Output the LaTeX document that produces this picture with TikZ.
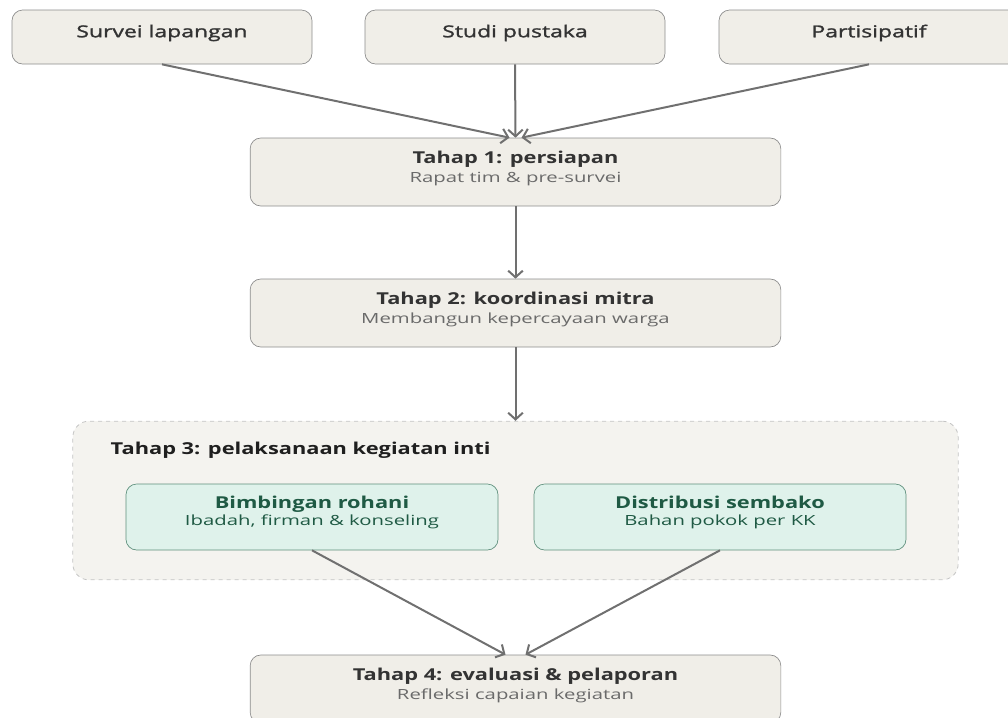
\documentclass[tikz,border=0pt]{standalone}
\usepackage{fontspec}
\setmainfont{Open Sans}[FakeStretch=1.45, BoldFeatures={FakeStretch=1.33}]
\newfontfamily\srcfont{Open Sans}[FakeStretch=1.40, FakeBold=1.6]
\usetikzlibrary{arrows.meta,positioning,calc}
\definecolor{boxfill}{HTML}{F0EEE8}
\definecolor{boxline}{HTML}{8C8C8C}
\definecolor{grpfill}{HTML}{F4F3EF}
\definecolor{grpline}{HTML}{C4C4C4}
\definecolor{grnfill}{HTML}{DFF2EB}
\definecolor{grnline}{HTML}{5E8F7C}
\definecolor{grntext}{HTML}{1F5A44}
\definecolor{titletext}{HTML}{333333}
\definecolor{subtext}{HTML}{6A6A6A}
\definecolor{arrowgray}{HTML}{707070}
% second line of a box, with extra depth so the block sits a bit high
\newcommand\sub[1]{\\{\fontsize{10.5}{14.5}\selectfont\mdseries\color{subtext}#1}\rule[-7.5pt]{0pt}{0pt}}
\newcommand\grnsub[1]{\\{\fontsize{10.5}{13}\selectfont\mdseries\color{grntext}#1}\rule[-9pt]{0pt}{0pt}}

\tikzset{
  srcbox/.style={draw=boxline, fill=boxfill, rounded corners=8pt, line width=.5pt,
    minimum width=225pt, minimum height=40.5pt, text=titletext,
    font=\srcfont\fontsize{12.3}{14.5}\selectfont},
  tahapbox/.style={draw=boxline, fill=boxfill, rounded corners=8pt, line width=.5pt,
    minimum width=398pt, minimum height=51pt, align=center, text=titletext,
    font=\fontsize{12.3}{14.5}\selectfont\bfseries},
  grnbox/.style={draw=grnline, fill=grnfill, rounded corners=8pt, line width=.5pt,
    minimum width=279pt, minimum height=49.5pt, align=center, text=grntext,
    font=\fontsize{12.3}{13}\selectfont\bfseries},
  grpbox/.style={draw=grpline, fill=grpfill, dashed, rounded corners=12pt, line width=.6pt,
    minimum width=664pt, minimum height=119pt},
  flow/.style={draw=arrowgray, line width=1.5pt, -{Straight Barb[length=5pt,width=11pt]}}
}

\begin{document}
\begin{tikzpicture}[x=0.75pt, y=-0.75pt]
\useasboundingbox (0,0) rectangle (1008,718);
\clip (0,0) rectangle (1008,718);
%% sources
\node[srcbox] (survei) at (162,37) {Survei lapangan\rule[-9pt]{0pt}{0pt}};
\node[srcbox] (studi) at (515,37) {Studi pustaka\rule[-9pt]{0pt}{0pt}};
\node[srcbox] (partis) at (869,37) {Partisipatif\rule[-9pt]{0pt}{0pt}};
%% stages
\node[tahapbox] (t1) at (515.5,172) {Tahap 1: persiapan\sub{Rapat tim \& pre-survei}};
\node[tahapbox] (t2) at (515.5,313) {Tahap 2: koordinasi mitra\sub{Membangun kepercayaan warga}};
\node[grpbox] (grp) at (515.5,500.5) {};
\node[anchor=west, text=black!88, font=\fontsize{12.3}{14.5}\selectfont\bfseries] (t3) at (106,450) {Tahap 3: pelaksanaan kegiatan inti};
\node[grnbox] (bim) at (312,517) {Bimbingan rohani\grnsub{Ibadah, firman \& konseling}};
\node[grnbox] (dis) at (720,517) {Distribusi sembako\grnsub{Bahan pokok per KK}};
\node[tahapbox] (t4) at (515.5,689) {Tahap 4: evaluasi \& pelaporan\sub{Refleksi capaian kegiatan}};
%% arrows
\draw[flow] (survei.south) -- ($(t1.north)+(-6,0)$);
\draw[flow] (studi.south) -- (t1.north);
\draw[flow] (partis.south) -- ($(t1.north)+(6,0)$);
\draw[flow] (t1.south) -- (t2.north);
\draw[flow] (t2.south) -- (grp.north);
\draw[flow] (bim.south) -- ($(t4.north)+(-10,0)$);
\draw[flow] (dis.south) -- ($(t4.north)+(10,0)$);
\end{tikzpicture}
\end{document}
